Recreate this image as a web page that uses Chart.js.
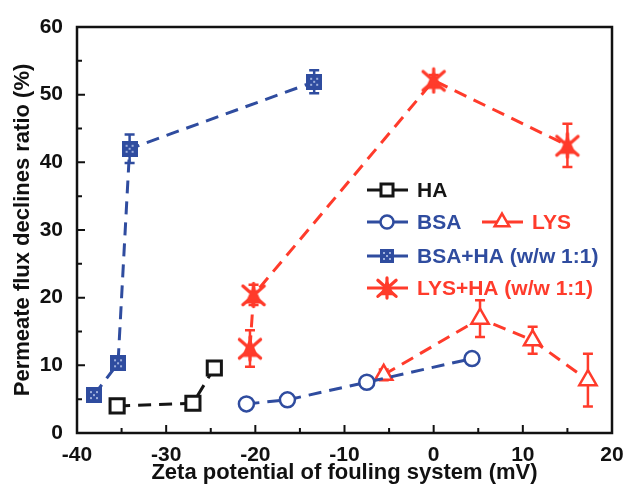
<!DOCTYPE html>
<html>
<head>
<meta charset="utf-8">
<script src="https://cdn.jsdelivr.net/npm/chart.js@4.4.1/dist/chart.umd.min.js"></script>
<style>
  html, body { margin: 0; padding: 0; background: #fff; }
  #wrap { width: 626px; height: 492px; }
</style>
</head>
<body>
<div id="wrap"><canvas id="c"></canvas></div>
<script>
// values (x = zeta potential mV, y = flux decline %)
const haX = [-35.5, -27.0, -24.6];
const haY = [4.0, 4.4, 9.6];
const haErr = [0.6, 0.5, 0.6];

const bsaX = [-21.0, -16.4, -7.5, 4.3];
const bsaY = [4.3, 4.9, 7.5, 11.0];
const bsaErr = [0.5, 0.5, 0.5, 0.6];

const bsaHaX = [-38.1, -35.4, -34.1, -13.4];
const bsaHaY = [5.6, 10.3, 42.0, 51.9];
const bsaHaErr = [0.6, 0.6, 2.1, 1.7];

const lysX = [-5.6, 5.2, 11.1, 17.3];
const lysY = [8.6, 16.9, 13.7, 7.8];
const lysErr = [0.8, 2.7, 2.0, 3.9];

const lysHaX = [-20.6, -20.2, 0.0, 15.0];
const lysHaY = [12.5, 20.4, 52.1, 42.5];
const lysHaErr = [2.7, 1.5, 0.8, 3.2];

const xTicks = [-40, -30, -20, -10, 0, 10, 20];
const yTicks = [0, 10, 20, 30, 40, 50, 60];

const BLUE = '#2f4c9f';
const RED = '#ff3b2b';
const BLACK = '#151515';
const FONT = '"Liberation Sans", Arial, sans-serif';

function toPts(xs, ys) {
  return xs.map((x, i) => ({ x: x, y: ys[i] }));
}

// marker for BSA+HA: filled square with light dots
function makeDotSquare(size) {
  const c = document.createElement('canvas');
  c.width = size; c.height = size;
  const g = c.getContext('2d');
  g.fillStyle = BLUE;
  g.fillRect(0, 0, size, size);
  g.fillStyle = '#9fb0dc';
  const m = size / 2;
  [[m - 3, m - 3], [m + 3, m - 3], [m - 3, m + 3], [m + 3, m + 3], [m, m]].forEach(p => {
    g.fillRect(p[0] - 1, p[1] - 1, 2, 2);
  });
  return c;
}

// marker for LYS+HA: triangle overlaid by a cross
function makeStar(size) {
  const c = document.createElement('canvas');
  c.width = size; c.height = size;
  const g = c.getContext('2d');
  const s = size;
  g.strokeStyle = RED;
  g.fillStyle = RED;
  g.lineWidth = 3.2;
  g.lineCap = 'round';
  g.beginPath();
  g.moveTo(s * 0.5, s * 0.12);
  g.lineTo(s * 0.2, s * 0.8);
  g.lineTo(s * 0.8, s * 0.8);
  g.closePath();
  g.fill();
  g.beginPath();
  g.moveTo(s * 0.12, s * 0.18); g.lineTo(s * 0.88, s * 0.85);
  g.moveTo(s * 0.88, s * 0.18); g.lineTo(s * 0.12, s * 0.85);
  g.moveTo(s * 0.5, s * 0.08); g.lineTo(s * 0.5, s * 0.92);
  g.stroke();
  return c;
}

const dotSquare = makeDotSquare(16);
const dotSquareSmall = makeDotSquare(14);
const starMark = makeStar(28);
const starMarkSmall = makeStar(24);

const datasets = [
  {
    label: 'HA', data: toPts(haX, haY), err: haErr,
    borderColor: BLACK, backgroundColor: '#fff', pointStyle: 'rect',
    pointRadius: 10, pointBorderWidth: 3, legendCol: 0, legendRow: 0
  },
  {
    label: 'BSA', data: toPts(bsaX, bsaY), err: bsaErr,
    borderColor: BLUE, backgroundColor: '#fff', pointStyle: 'circle',
    pointRadius: 7.5, pointBorderWidth: 2.5, legendCol: 0, legendRow: 1
  },
  {
    label: 'BSA+HA (w/w 1:1)', data: toPts(bsaHaX, bsaHaY), err: bsaHaErr,
    borderColor: BLUE, backgroundColor: BLUE, pointStyle: dotSquare, legendMark: dotSquareSmall,
    pointRadius: 8, pointBorderWidth: 0, legendCol: 0, legendRow: 2
  },
  {
    label: 'LYS', data: toPts(lysX, lysY), err: lysErr,
    borderColor: RED, backgroundColor: '#fff', pointStyle: 'triangle',
    pointRadius: 10, pointBorderWidth: 2.5, legendCol: 1, legendRow: 1
  },
  {
    label: 'LYS+HA (w/w 1:1)', data: toPts(lysHaX, lysHaY), err: lysHaErr,
    borderColor: RED, backgroundColor: RED, pointStyle: starMark, legendMark: starMarkSmall,
    pointRadius: 12, pointBorderWidth: 0, legendCol: 0, legendRow: 3
  }
];

datasets.forEach(d => {
  d.showLine = true;
  d.borderWidth = 3;
  d.borderDash = [13, 8];
  d.pointBackgroundColor = d.backgroundColor;
  d.pointBorderColor = d.borderColor;
  d.pointHoverRadius = d.pointRadius;
});

const errorBars = {
  id: 'errorBars',
  beforeDatasetsDraw(chart) {
    const ctx = chart.ctx;
    const xs = chart.scales.x, ys = chart.scales.y;
    ctx.save();
    chart.data.datasets.forEach(ds => {
      if (!ds.err) return;
      ctx.strokeStyle = ds.borderColor;
      ctx.lineWidth = 2.5;
      ds.data.forEach((p, i) => {
        const e = ds.err[i];
        if (!e) return;
        const px = xs.getPixelForValue(p.x);
        const top = ys.getPixelForValue(p.y + e);
        const bot = ys.getPixelForValue(p.y - e);
        ctx.beginPath();
        ctx.moveTo(px, top); ctx.lineTo(px, bot);
        ctx.moveTo(px - 5, top); ctx.lineTo(px + 5, top);
        ctx.moveTo(px - 5, bot); ctx.lineTo(px + 5, bot);
        ctx.stroke();
      });
    });
    ctx.restore();
  }
};

const frameTicks = {
  id: 'frameTicks',
  afterDraw(chart) {
    const ctx = chart.ctx;
    const a = chart.chartArea;
    const xs = chart.scales.x, ys = chart.scales.y;
    ctx.save();
    ctx.strokeStyle = '#111';
    ctx.lineWidth = 2.5;
    ctx.strokeRect(a.left, a.top, a.right - a.left, a.bottom - a.top);
    ctx.lineWidth = 2;
    ctx.beginPath();
    for (let v = xs.min + 5; v < xs.max; v += 5) {
      const px = xs.getPixelForValue(v);
      const len = v % 10 === 0 ? 8 : 5;
      ctx.moveTo(px, a.bottom); ctx.lineTo(px, a.bottom - len);
    }
    for (let v = ys.min + 5; v < ys.max; v += 5) {
      const py = ys.getPixelForValue(v);
      const len = v % 10 === 0 ? 8 : 5;
      ctx.moveTo(a.left, py); ctx.lineTo(a.left + len, py);
    }
    ctx.stroke();
    ctx.restore();
  }
};

const innerLegend = {
  id: 'innerLegend',
  afterDraw(chart) {
    const ctx = chart.ctx;
    const colX = [367, 482];
    const rowY = [190, 222, 256, 288];
    ctx.save();
    ctx.font = 'bold 21px ' + FONT;
    ctx.textBaseline = 'middle';
    ctx.textAlign = 'left';
    chart.data.datasets.forEach(ds => {
      const x0 = colX[ds.legendCol];
      const y = rowY[ds.legendRow];
      const mid = x0 + 20;
      ctx.strokeStyle = ds.borderColor;
      ctx.lineWidth = 3;
      ctx.beginPath();
      ctx.moveTo(x0, y); ctx.lineTo(x0 + 41, y);
      ctx.stroke();
      ctx.fillStyle = ds.backgroundColor;
      ctx.lineWidth = ds.pointBorderWidth || 1;
      const style = ds.legendMark || ds.pointStyle;
      Chart.helpers.drawPoint(ctx, {
        pointStyle: style,
        radius: ds.pointStyle === 'circle' ? 6.5 : 8.5,
        rotation: 0,
        borderWidth: ds.pointBorderWidth
      }, mid, y);
      ctx.fillStyle = ds.borderColor;
      ctx.fillText(ds.label, x0 + 50, y + 1);
    });
    ctx.restore();
  }
};

new Chart(document.getElementById('c'), {
  type: 'scatter',
  data: { datasets: datasets },
  options: {
    responsive: true,
    maintainAspectRatio: false,
    animation: false,
    layout: { padding: { top: 27, right: 14, left: 10, bottom: 0 } },
    plugins: {
      legend: { display: false },
      tooltip: { enabled: false }
    },
    scales: {
      x: {
        type: 'linear', min: -40, max: 20,
        afterBuildTicks: s => { s.ticks = xTicks.map(v => ({ value: v })); },
        afterFit: s => { s.height = 59; },
        grid: { display: false },
        border: { display: false },
        ticks: { color: '#111', font: { family: FONT, weight: 'bold', size: 21 }, padding: 2 },
        title: {
          display: true, text: 'Zeta potential of fouling system (mV)', color: '#111',
          font: { family: FONT, weight: 'bold', size: 22 }, padding: { top: 0, bottom: 6 }
        }
      },
      y: {
        type: 'linear', min: 0, max: 60,
        afterBuildTicks: s => { s.ticks = yTicks.map(v => ({ value: v })); },
        afterFit: s => { s.width = 67; },
        grid: { display: false },
        border: { display: false },
        ticks: { color: '#111', font: { family: FONT, weight: 'bold', size: 21 }, padding: 6 },
        title: {
          display: true, text: 'Permeate flux declines ratio (%)', color: '#111',
          font: { family: FONT, weight: 'bold', size: 22 }, padding: { top: 0, bottom: 0 }
        }
      }
    }
  },
  plugins: [errorBars, frameTicks, innerLegend]
});
</script>
</body>
</html>
